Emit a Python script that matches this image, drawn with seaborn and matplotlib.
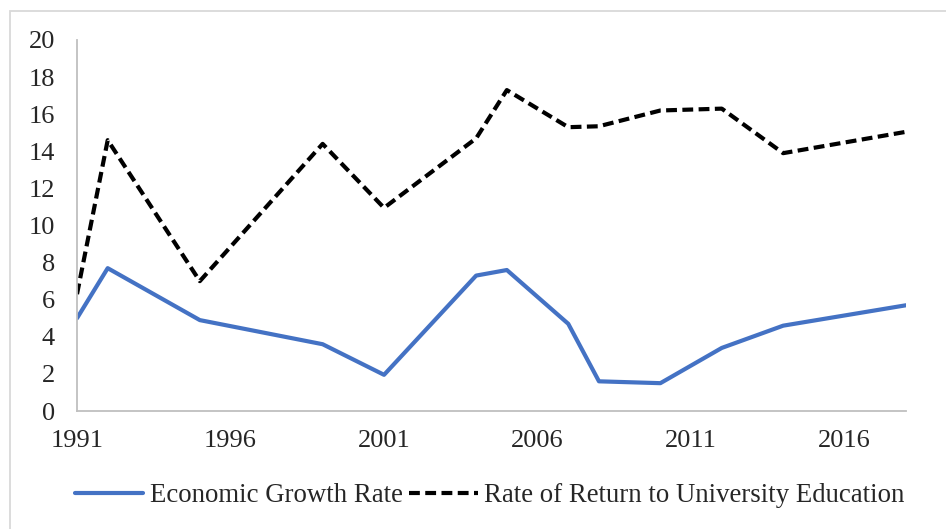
import matplotlib as mpl
import matplotlib.pyplot as plt
import seaborn as sns
import pandas as pd
from matplotlib.patches import Rectangle

years = [1991, 1992, 1995, 1999, 2001, 2004, 2005, 2007, 2008, 2010, 2012, 2014, 2018]
growth = [5.0, 7.7, 4.9, 3.6, 1.95, 7.3, 7.6, 4.7, 1.6, 1.5, 3.4, 4.6, 5.7]
returns = [6.3, 14.6, 7.0, 14.4, 10.95, 14.7, 17.3, 15.3, 15.35, 16.2, 16.3, 13.9, 15.05]
series_names = ['Economic Growth Rate', 'Rate of Return to University Education']
xticks = [1991, 1996, 2001, 2006, 2011, 2016]
yticks = list(range(0, 21, 2))

df = pd.DataFrame({
    'Year': years * 2,
    'Value': growth + returns,
    'Series': [series_names[0]] * len(years) + [series_names[1]] * len(years),
})

sns.set_style('white')
plt.rcParams['font.family'] = ['Liberation Serif', 'DejaVu Serif']
mpl.rc('font', size=19)

fig = plt.figure(figsize=(9.46, 5.29), dpi=100)
ax = fig.add_axes([77 / 946, 1 - 411 / 529, (906 - 77) / 946, (411 - 40) / 529])

palette = {series_names[0]: '#4472C4', series_names[1]: '#000000'}
dashes = {series_names[0]: '', series_names[1]: (2.6, 1.3)}
sns.lineplot(data=df, x='Year', y='Value', hue='Series', style='Series',
             palette=palette, dashes=dashes, linewidth=3, ax=ax, legend=True)

ax.set_xlim(1991, 2018)
ax.set_ylim(0, 20)
ax.set_xticks(xticks)
ax.set_yticks(yticks)
ax.set_xlabel('')
ax.set_ylabel('')
ax.tick_params(axis='y', length=0, pad=16, labelsize=19)
ax.tick_params(axis='x', length=0, pad=14, labelsize=19)
for side in ['top', 'right']:
    ax.spines[side].set_visible(False)
for side in ['left', 'bottom']:
    ax.spines[side].set_color('#BFBFBF')
    ax.spines[side].set_linewidth(1.3)

handles, labels = ax.get_legend_handles_labels()
ax.get_legend().remove()
fig.legend(handles, labels, loc='center', bbox_to_anchor=(0.5175, 1 - 496 / 529),
           ncol=2, frameon=False, fontsize=19.3, handlelength=2.55,
           handletextpad=0.23, columnspacing=0.25, borderpad=0)

# chart border (only left and top edges visible in the crop)
fig.patches.append(Rectangle((10 / 946, -0.1), 1.2, 1.1 - 11 / 529, transform=fig.transFigure,
                             fill=False, edgecolor='#D9D9D9', linewidth=1.3))

plt.savefig('out.png', dpi=100)
